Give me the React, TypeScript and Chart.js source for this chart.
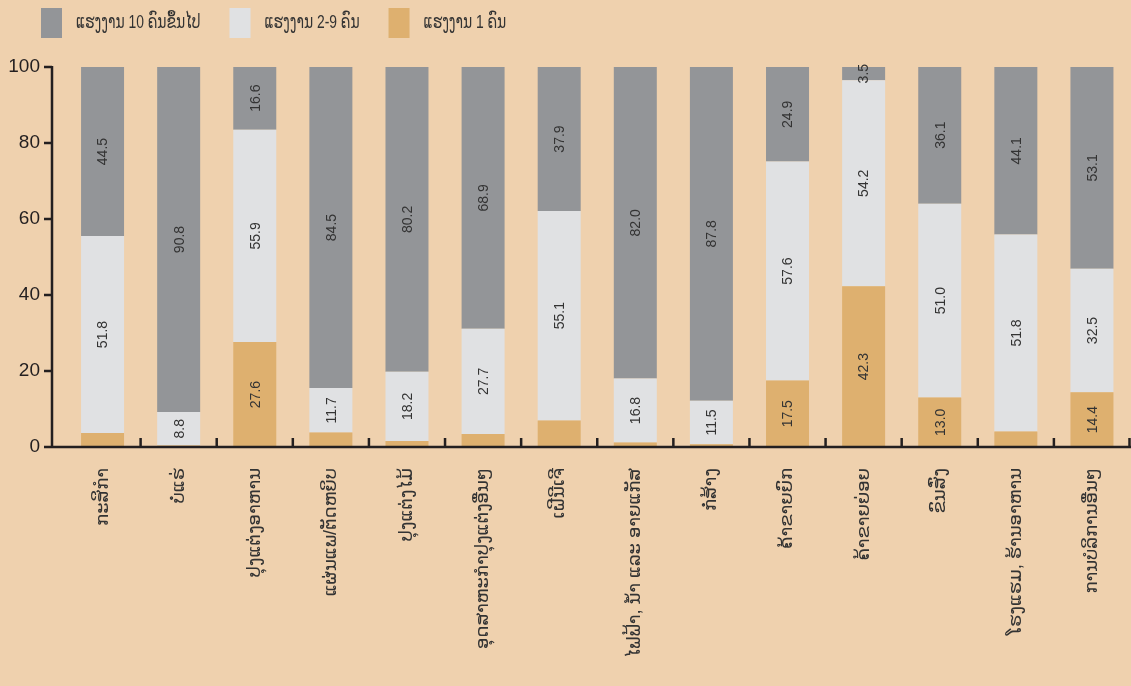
import React, { useEffect, useRef } from "react";
import { Chart, registerables } from "chart.js";

Chart.register(...registerables);

const categories = [
  "ກະສິກຳ",
  "ບໍ່ແຮ່",
  "ປຸງແຕ່ງອາຫານ",
  "ແຜ່ນແພ/ຕັດຫຍິບ",
  "ປຸງແຕ່ງໄມ້",
  "ອຸດສາຫະກຳປຸງແຕ່ງອື່ນໆ",
  "ເຝີນີເຈີ",
  "ໄຟຟ້າ, ນ້ຳ ແລະ ອາຍແກັສ",
  "ກໍ່ສ້າງ",
  "ຄ້າຂາຍຍົກ",
  "ຄ້າຂາຍຍ່ອຍ",
  "ຂົນສົ່ງ",
  "ໂຮງແຮມ, ຮ້ານອາຫານ",
  "ການບໍລິການອື່ນໆ",
];

const oneWorker = [3.7, 0.4, 27.6, 3.8, 1.6, 3.4, 7.0, 1.2, 0.7, 17.5, 42.3, 13.0, 4.1, 14.4];
const twoToNine = [51.8, 8.8, 55.9, 11.7, 18.2, 27.7, 55.1, 16.8, 11.5, 57.6, 54.2, 51.0, 51.8, 32.5];
const tenPlus = [44.5, 90.8, 16.6, 84.5, 80.2, 68.9, 37.9, 82.0, 87.8, 24.9, 3.5, 36.1, 44.1, 53.1];

const seriesLabels = ["ແຮງງານ 1 ຄົນ", "ແຮງງານ 2-9 ຄົນ", "ແຮງງານ 10 ຄົນຂຶ້ນໄປ"];
const yTicks = [0, 20, 40, 60, 80, 100];
// minimum value for a label to be printed, per series
const labelThreshold = [10, 0, 0];

const BG = "#EFD1AE";
const COLORS = ["#DEB06F", "#E0E1E3", "#939598"];
const INK = "#231F20";
const NUM_FONT = '"Liberation Sans", Arial, "DejaVu Sans", sans-serif';
const LAO_FONT = '"Liberation Sans", "DejaVu Sans", sans-serif';
const LEGEND_SQUEEZE = 0.73;

const customPlugin = {
  id: "customDraw",
  afterDatasetsDraw(chart: any) {
    const ctx = chart.ctx;
    ctx.save();
    ctx.font = `14px ${NUM_FONT}`;
    ctx.fillStyle = "#333333";
    ctx.textAlign = "center";
    ctx.textBaseline = "middle";
    chart.data.datasets.forEach((ds: any, di: number) => {
      const meta = chart.getDatasetMeta(di);
      meta.data.forEach((el: any, i: number) => {
        const v = ds.data[i];
        if (v < labelThreshold[di]) return;
        const cy = (el.y + el.base) / 2;
        ctx.save();
        ctx.translate(el.x, cy);
        ctx.rotate(-Math.PI / 2);
        ctx.fillText(v.toFixed(1), 0, 1);
        ctx.restore();
      });
    });
    ctx.restore();
  },
  afterDraw(chart: any) {
    const ctx = chart.ctx;
    const xs = chart.scales.x;
    const ys = chart.scales.y;
    const axisX = 52;
    const top = ys.getPixelForValue(100);
    const bottom = ys.getPixelForValue(0);
    ctx.save();
    ctx.strokeStyle = INK;
    ctx.lineWidth = 2.5;
    ctx.beginPath();
    ctx.moveTo(axisX, top - 1);
    ctx.lineTo(axisX, bottom);
    ctx.moveTo(axisX - 1, bottom);
    ctx.lineTo(chart.width, bottom);
    yTicks.forEach((v) => {
      const py = ys.getPixelForValue(v);
      ctx.moveTo(axisX - 8, py);
      ctx.lineTo(axisX, py);
    });
    for (let i = 1; i <= categories.length; i++) {
      const px = Math.min(xs.getPixelForValue(i - 0.5), chart.width - 1.5);
      ctx.moveTo(px, bottom);
      ctx.lineTo(px, bottom - 9);
    }
    ctx.stroke();

    // legend
    ctx.font = `19px ${LAO_FONT}`;
    ctx.textBaseline = "middle";
    ctx.textAlign = "left";
    let lx = 41;
    const ds = chart.data.datasets;
    for (let k = ds.length - 1; k >= 0; k--) {
      ctx.fillStyle = ds[k].backgroundColor;
      ctx.fillRect(lx, 8, 21, 30);
      ctx.fillStyle = "#333333";
      const tx = lx + 35;
      ctx.save();
      ctx.translate(tx, 23);
      ctx.scale(LEGEND_SQUEEZE, 1);
      ctx.fillText(ds[k].label, 0, 0);
      ctx.restore();
      lx = tx + ctx.measureText(ds[k].label).width * LEGEND_SQUEEZE + 29;
    }
    ctx.restore();
  },
};

export default function App() {
  const ref = useRef<HTMLCanvasElement | null>(null);

  useEffect(() => {
    document.body.style.margin = "0";
    document.body.style.background = BG;
    if (!ref.current) return;
    const chart = new Chart(ref.current, {
      type: "bar",
      data: {
        labels: categories,
        datasets: [
          { label: seriesLabels[0], data: oneWorker, backgroundColor: COLORS[0] },
          { label: seriesLabels[1], data: twoToNine, backgroundColor: COLORS[1] },
          { label: seriesLabels[2], data: tenPlus, backgroundColor: COLORS[2] },
        ],
      },
      options: {
        responsive: false,
        animation: false,
        devicePixelRatio: 1,
        layout: { padding: { top: 67, right: 1, left: 0, bottom: 0 } },
        datasets: { bar: { categoryPercentage: 1, barPercentage: 0.565 } } as any,
        plugins: {
          legend: { display: false },
          tooltip: { enabled: false },
        },
        scales: {
          x: {
            stacked: true,
            grid: { display: false, drawTicks: false },
            border: { display: false },
            ticks: {
              autoSkip: false,
              minRotation: 90,
              maxRotation: 90,
              padding: 21,
              color: "#333333",
              font: { family: LAO_FONT, size: 18 },
            },
            afterFit: (scale: any) => {
              scale.height = 239;
              scale.paddingLeft = 0;
              scale.paddingRight = 0;
            },
          },
          y: {
            stacked: true,
            min: 0,
            max: 100,
            grid: { display: false, drawTicks: false },
            border: { display: false },
            ticks: {
              stepSize: 20,
              padding: 24.5,
              color: INK,
              font: { family: NUM_FONT, size: 19 },
            },
            afterFit: (scale: any) => {
              scale.width = 64.5;
            },
          },
        },
      },
      plugins: [customPlugin],
    });
    return () => chart.destroy();
  }, []);

  return (
    <div style={{ width: 1131, height: 686, background: BG }}>
      <canvas ref={ref} width={1131} height={686} style={{ display: "block" }} />
    </div>
  );
}
